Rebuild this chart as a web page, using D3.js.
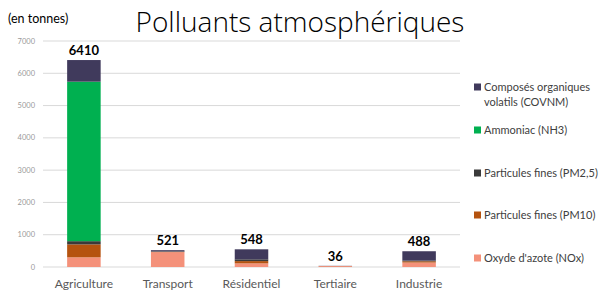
<!DOCTYPE html>
<html><head><meta charset="utf-8">
<script src="https://cdn.jsdelivr.net/npm/d3@7"></script>
<style>body{margin:0;background:#fff;} svg{display:block;}</style>
</head><body>
<svg id="c" width="599" height="293"></svg>
<script>
const categories = ["Agriculture","Transport","Résidentiel","Tertiaire","Industrie"];
const seriesNames = ["Oxyde d'azote (NOx)","Particules fines (PM10)","Particules fines (PM2,5)","Ammoniac (NH3)","Composés organiques volatils (COVNM)"];
const nox   = [300, 460, 113, 28, 138];
const pm10  = [400, 10, 70, 2, 40];
const pm25  = [100, 15, 55, 2, 20];
const nh3   = [4940, 0, 0, 0, 0];
const covnm = [670, 36, 310, 4, 290];
const totals = [6410, 521, 548, 36, 488];
const yTicks = [0,1000,2000,3000,4000,5000,6000,7000];
const colors = ["#F4917A","#B5530F","#3A3A3A","#00B050","#403A5C"];

const seriesValues = [nox, pm10, pm25, nh3, covnm];
const rows = categories.map((c,i)=>{const r={cat:c}; seriesNames.forEach((s,j)=>r[s]=seriesValues[j][i]); return r;});
const stack = d3.stack().keys(seriesNames)(rows);

const svg = d3.select("#c");
const x = d3.scaleBand().domain(categories).range([42,461]).paddingInner(0.6).paddingOuter(0.3);
const y = d3.scaleLinear().domain([0,7000]).range([267,41]);

// gridlines
svg.append("g").selectAll("line").data(yTicks).join("line")
  .attr("x1",43).attr("x2",460).attr("y1",d=>y(d)).attr("y2",d=>y(d))
  .attr("stroke","#D9D9D9").attr("stroke-width",1);

// y axis labels
svg.append("g").selectAll("text").data(yTicks).join("text")
  .attr("x",35).attr("y",d=>y(d)+2.5).attr("text-anchor","end")
  .attr("font-family","Lato, sans-serif").attr("font-size",7.5).attr("fill","#999")
  .text(d=>d);

// bars
svg.append("g").selectAll("g").data(stack).join("g").attr("fill",(d,i)=>colors[i])
  .selectAll("rect").data(d=>d).join("rect")
  .attr("x",d=>x(d.data.cat)).attr("width",x.bandwidth())
  .attr("y",d=>y(d[1])).attr("height",d=>Math.max(0,y(d[0])-y(d[1])));

// totals
svg.append("g").selectAll("text").data(categories).join("text")
  .attr("x",d=>x(d)+x.bandwidth()/2).attr("y",(d,i)=>y(totals[i])-5)
  .attr("text-anchor","middle").attr("font-family","Lato, sans-serif").attr("font-weight","bold")
  .attr("font-size",13).attr("fill","#000").text((d,i)=>totals[i]);

// x labels
svg.append("g").selectAll("text").data(categories).join("text")
  .attr("x",d=>x(d)+x.bandwidth()/2).attr("y",288)
  .attr("text-anchor","middle").attr("font-family","Lato, sans-serif")
  .attr("font-size",12).attr("fill","#595959").text(d=>d);

// title
svg.append("text").attr("x",300).attr("y",32).attr("text-anchor","middle")
  .attr("font-family","'Open Sans', sans-serif").attr("font-weight",300)
  .attr("font-size",28).attr("fill","#000").text("Polluants atmosphériques");

svg.append("text").attr("x",8).attr("y",23)
  .attr("font-family","Lato, sans-serif").attr("font-size",12.5).attr("fill","#000").text("(en tonnes)");

// legend
const legendItems = [
  {i:4, lines:["Composés organiques","volatils (COVNM)"], y:87},
  {i:3, lines:["Ammoniac (NH3)"], y:130},
  {i:2, lines:["Particules fines (PM2,5)"], y:173},
  {i:1, lines:["Particules fines (PM10)"], y:215},
  {i:0, lines:["Oxyde d'azote (NOx)"], y:258}
];
const lg = svg.append("g").selectAll("g").data(legendItems).join("g");
lg.append("rect").attr("x",474).attr("y",d=>d.y-3.5).attr("width",7).attr("height",7).attr("fill",d=>colors[d.i]);
lg.append("text").attr("font-family","Lato, sans-serif").attr("font-size",11).attr("fill","#404040")
  .selectAll("tspan").data(d=>d.lines.map((l,k)=>({l,k,y:d.y}))).join("tspan")
  .attr("x",484).attr("y",t=>t.y+4+t.k*15).text(t=>t.l);
</script>
</body></html>
